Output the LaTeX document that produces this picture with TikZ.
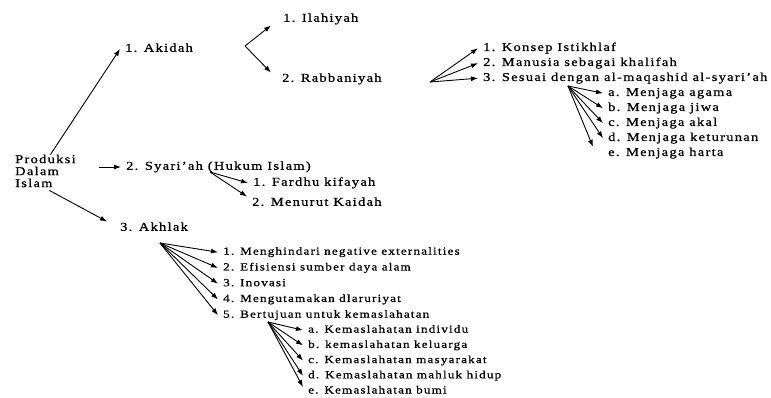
\documentclass[tikz,border=0pt]{standalone}
\usepackage{fontspec}
\setmainfont[FakeStretch=1.2, LetterSpace=11, FakeBold=0.8]{Liberation Serif}
\usepackage{tikz}
\usetikzlibrary{matrix, positioning, arrows.meta}

\begin{document}
\begin{tikzpicture}[
        x=1pt, y=-1pt,
        every node/.style={font=\fontsize{12}{12}\selectfont},
        item/.style={anchor=west, inner xsep=5pt, inner ysep=1pt, text height=8pt, text depth=2.5pt},
        subitem/.style={item, font=\fontsize{10.9}{10.9}\selectfont, text height=7.3pt, text depth=2.3pt},
        list/.style={matrix of nodes, inner sep=0pt, anchor=north west, nodes={item}},
        sublist/.style={list, nodes={subitem}},
        arrow/.style={-{Latex[length=7pt,width=5pt]}, line width=0.9pt}
    ]
    \useasboundingbox (0,0) rectangle (771,397);

    % Root
    \node (prod) [align=left, anchor=west, inner sep=0pt] at (15,171) {Produksi\\Dalam\\Islam};

    % Main branches
    \node (akidah) [item] at (120,49) {1. Akidah};
    \node (syariah) [item] at (121,167) {2. Syari'ah (Hukum Islam)};
    \node (akhlak) [item] at (115,228) {3. Akhlak};

    % Akidah
    \node (ilahiyah) [item] at (278,19) {1. Ilahiyah};
    \node (rabb) [item] at (277,79) {2. Rabbaniyah};
    \matrix (rabblist) [list, row sep=2.5pt] at (478,41.75) {
        1. Konsep Istikhlaf \\
        2. Manusia sebagai khalifah \\
        3. Sesuai dengan al-maqashid al-syari'ah \\
    };
    \matrix (hifdz) [list, row sep=2.5pt] at (603,86.75) {
        a. Menjaga agama \\
        b. Menjaga jiwa \\
        c. Menjaga akal \\
        d. Menjaga keturunan \\
        e. Menjaga harta \\
    };

    % Syari'ah
    \node (fardhu) [item] at (248,183) {1. Fardhu kifayah};
    \node (kaidah) [item] at (247,203) {2. Menurut Kaidah};

    % Akhlak
    \matrix (akhlaklist) [sublist, row sep=4.15pt] at (218,246.2) {
        1. Menghindari negative externalities \\
        2. Efisiensi sumber daya alam \\
        3. Inovasi \\
        4. Mengutamakan dlaruriyat \\
        5. Bertujuan untuk kemaslahatan \\
    };
    \matrix (maslahat) [sublist, row sep=3.6pt] at (303,324.2) {
        a. Kemaslahatan individu \\
        b. kemaslahatan keluarga \\
        c. Kemaslahatan masyarakat \\
        d. Kemaslahatan mahluk hidup \\
        e. Kemaslahatan bumi \\
    };

    % Forks
    \coordinate (akidahfork) at (245,46);
    \coordinate (rabbfork) at (430,82);
    \coordinate (syariahfork) at (210,172);
    \coordinate (sesuaifork) at (568,86);
    \coordinate (akhlakfork) at (160,243);
    \coordinate (maslahatfork) at (268,322);

    % Arrows
    \draw[arrow] ([xshift=5pt]prod.north) -- (akidah.west);
    \draw[arrow] ([xshift=23pt]prod.east |- syariah.west) -- (syariah.west);
    \draw[arrow] ([xshift=4pt,yshift=-3pt]prod.south) -- ([xshift=-8pt]akhlak.north west);

    \draw[arrow] (akidahfork) -- ([xshift=-7pt]ilahiyah.south west);
    \draw[arrow] (akidahfork) -- ([xshift=-6pt]rabb.north west);

    \draw[arrow] (rabbfork) -- (rabblist-1-1.west);
    \draw[arrow] (rabbfork) -- (rabblist-2-1.west);
    \draw[arrow] (rabbfork) -- (rabblist-3-1.west);

    \draw[arrow] (sesuaifork) -- (hifdz-1-1.west);
    \draw[arrow] (sesuaifork) -- (hifdz-2-1.west);
    \draw[arrow] (sesuaifork) -- (hifdz-3-1.west);
    \draw[arrow] (sesuaifork) -- (hifdz-4-1.west);
    \draw[arrow] (sesuaifork) -- ([xshift=-10pt]hifdz-5-1.north west);

    \draw[arrow] (syariahfork) -- (fardhu.west);
    \draw[arrow] (syariahfork) -- (kaidah.north west);

    \draw[arrow] (akhlakfork) -- (akhlaklist-1-1.west);
    \draw[arrow] (akhlakfork) -- (akhlaklist-2-1.west);
    \draw[arrow] (akhlakfork) -- (akhlaklist-3-1.west);
    \draw[arrow] (akhlakfork) -- (akhlaklist-4-1.west);
    \draw[arrow] (akhlakfork) -- (akhlaklist-5-1.west);

    \draw[arrow] (maslahatfork) -- (maslahat-1-1.west);
    \draw[arrow] (maslahatfork) -- (maslahat-2-1.west);
    \draw[arrow] (maslahatfork) -- (maslahat-3-1.west);
    \draw[arrow] (maslahatfork) -- (maslahat-4-1.west);
    \draw[arrow] (maslahatfork) -- ([yshift=4pt]maslahat-5-1.west);

\end{tikzpicture}
\end{document}
